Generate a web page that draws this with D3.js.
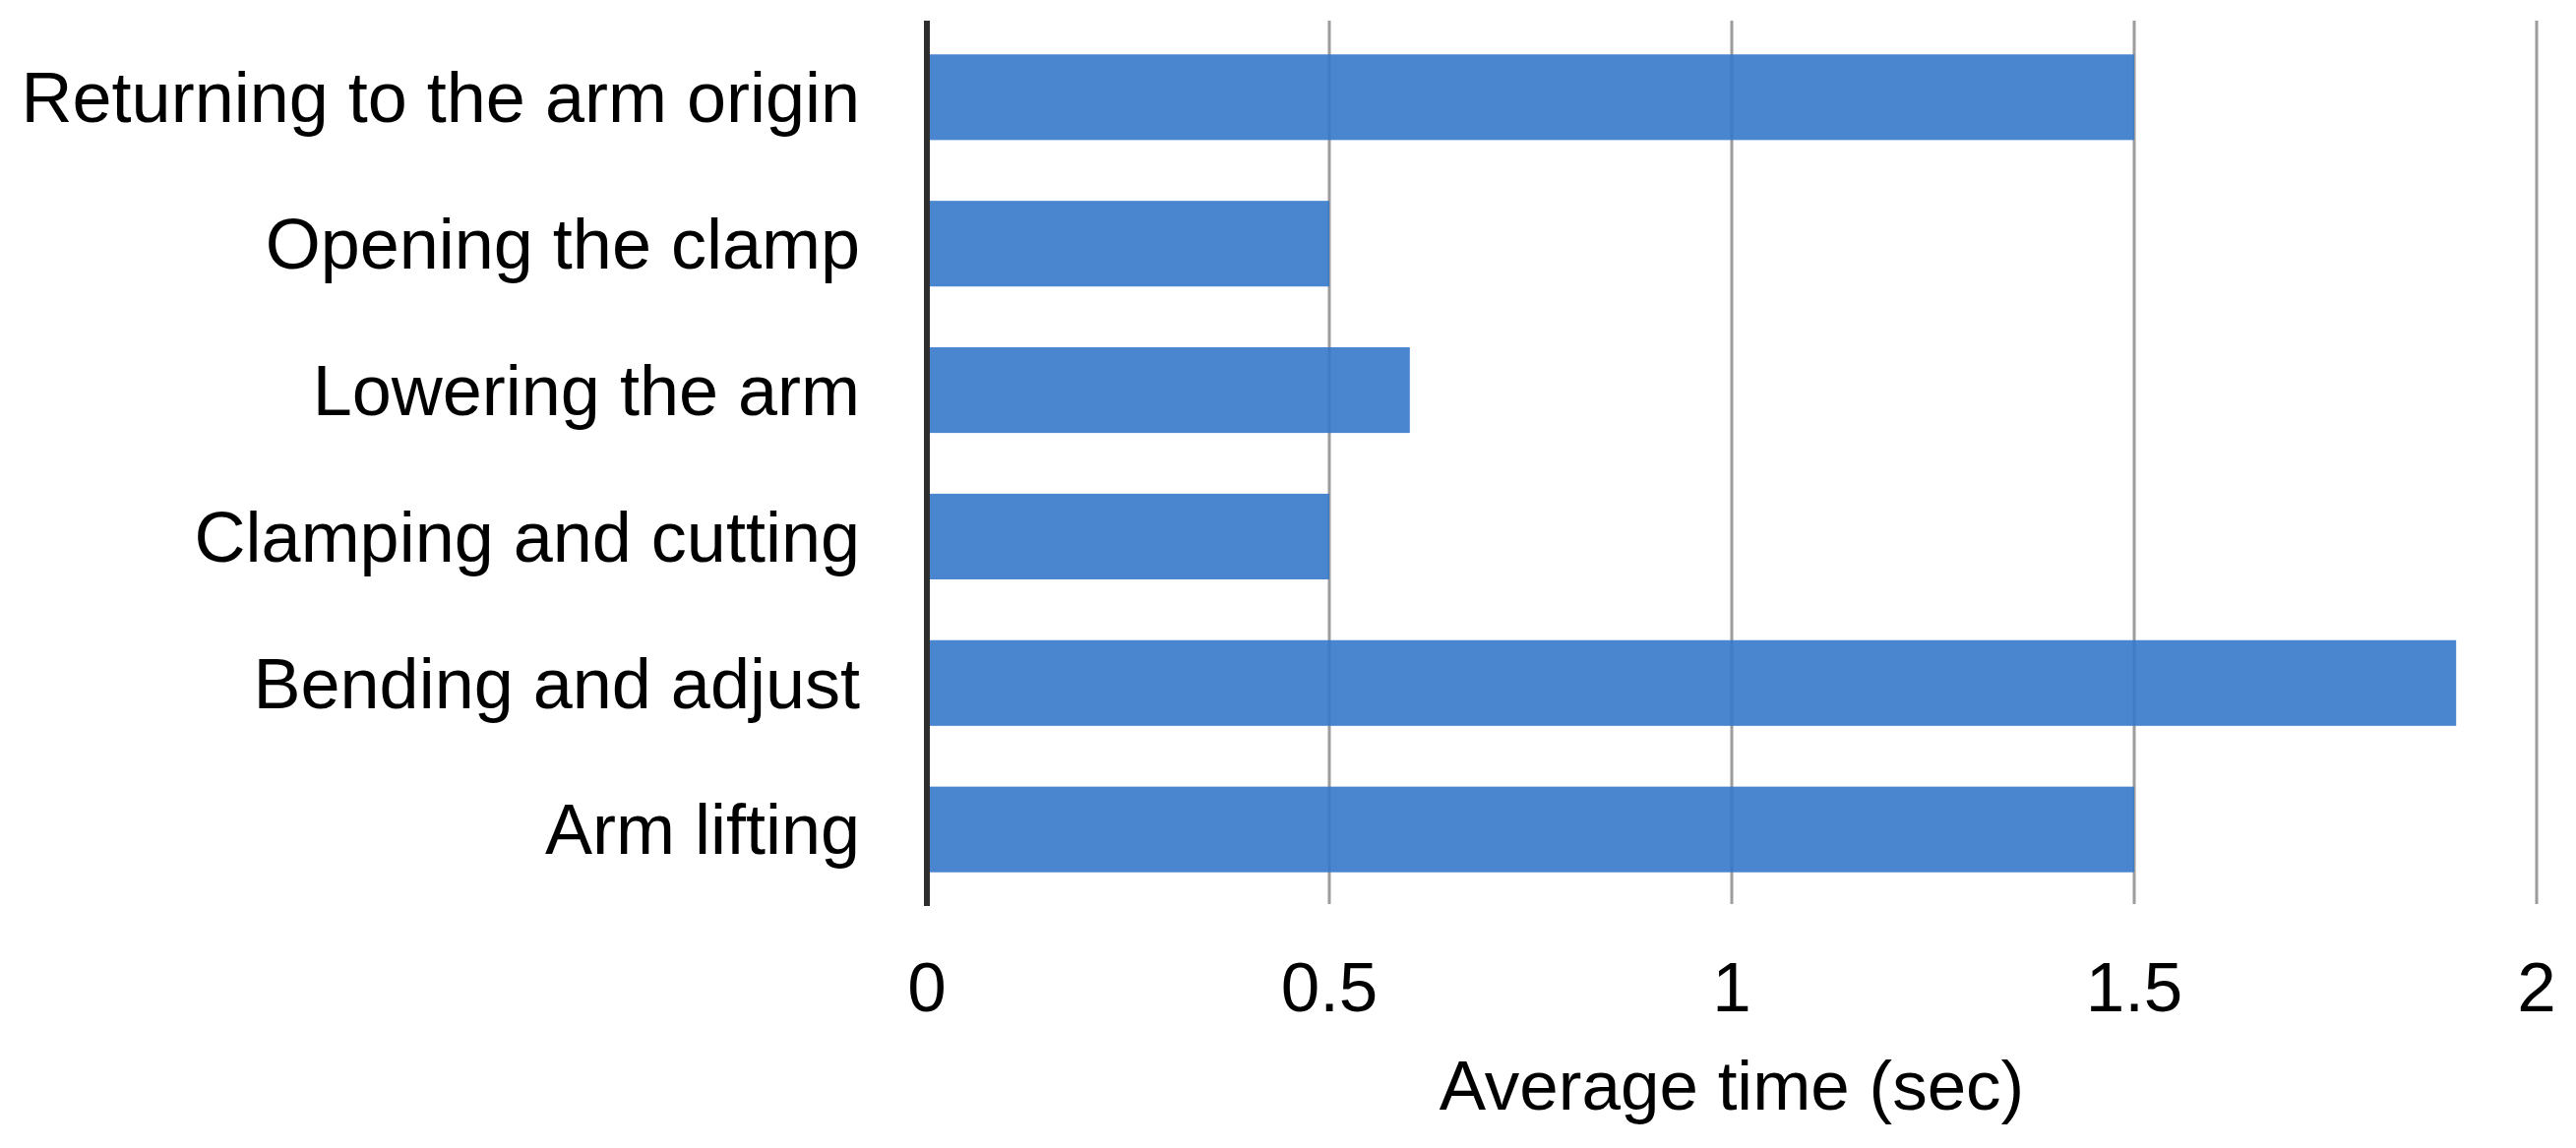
<!DOCTYPE html>
<html>
<head>
<meta charset="utf-8">
<script src="https://cdn.jsdelivr.net/npm/d3@7"></script>
<style>
  body { margin: 0; background: #fff; }
  text { font-family: "Liberation Sans", Arial, sans-serif; fill: #000; }
</style>
</head>
<body>
<svg id="grafica"></svg>
<script>
// datos de la grafica (de arriba hacia abajo)
const etapas = [
    'Returning to the arm origin',
    'Opening the clamp',
    'Lowering the arm',
    'Clamping and cutting',
    'Bending and adjust',
    'Arm lifting'
];
const tiempos = [1.5, 0.5, 0.6, 0.5, 1.9, 1.5];
const ticksX = [0, 0.5, 1, 1.5, 2];
const tituloX = 'Average time (sec)';

const ancho = 2618, alto = 1167;
const margen = { top: 24, right: 40, bottom: 249, left: 942 };

const svg = d3.select('#grafica')
    .attr('width', ancho)
    .attr('height', alto)
    .style('background-color', 'white');

const x = d3.scaleLinear()
    .domain([0, 2])
    .range([margen.left, 2578]);

const y = d3.scaleBand()
    .domain(etapas)
    .range([margen.top, alto - margen.bottom])
    .paddingInner(0.415)
    .paddingOuter(0.21);

// lineas de la grilla
svg.append('g')
    .selectAll('line')
    .data(ticksX.filter(d => d > 0))
    .join('line')
    .attr('x1', d => x(d))
    .attr('x2', d => x(d))
    .attr('y1', 21)
    .attr('y2', 919)
    .attr('stroke', '#9c9c9c')
    .attr('stroke-width', 3);

// barras
svg.append('g')
    .selectAll('rect')
    .data(tiempos)
    .join('rect')
    .attr('x', x(0))
    .attr('y', (d, i) => y(etapas[i]))
    .attr('width', d => x(d) - x(0))
    .attr('height', y.bandwidth())
    .attr('fill', '#3679ca')
    .attr('fill-opacity', 0.9);

// eje vertical
svg.append('line')
    .attr('x1', x(0))
    .attr('x2', x(0))
    .attr('y1', 21)
    .attr('y2', 921)
    .attr('stroke', '#2e2e2e')
    .attr('stroke-width', 6);

// etiquetas de categorias
svg.append('g')
    .selectAll('text')
    .data(etapas)
    .join('text')
    .attr('x', 874)
    .attr('y', d => y(d) + y.bandwidth() / 2)
    .attr('dy', '0.35em')
    .attr('text-anchor', 'end')
    .style('font-size', '72px')
    .text(d => d);

// etiquetas del eje x
svg.append('g')
    .selectAll('text')
    .data(ticksX)
    .join('text')
    .attr('x', d => x(d))
    .attr('y', 1028)
    .attr('text-anchor', 'middle')
    .style('font-size', '71px')
    .text(d => d);

// titulo del eje x
svg.append('text')
    .attr('x', (x(0) + x(2)) / 2)
    .attr('y', 1128)
    .attr('text-anchor', 'middle')
    .style('font-size', '71px')
    .text(tituloX);
</script>
</body>
</html>
